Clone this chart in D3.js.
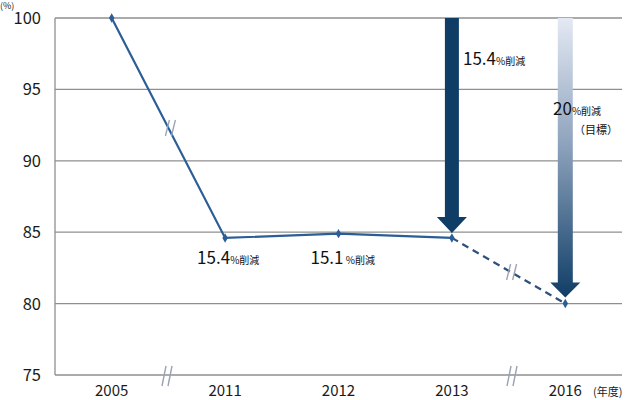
<!DOCTYPE html>
<html><head><meta charset="utf-8">
<script src="https://cdn.jsdelivr.net/npm/d3@7"></script>
<style>body{margin:0;background:#fff}svg{display:block}text{font-family:"Noto Sans CJK JP","Noto Sans",sans-serif}</style>
</head><body><svg id="c" width="640" height="400"></svg>
<script>
const years = ["2005","2011","2012","2013","2016"];
const values = [100, 84.6, 84.9, 84.6, 80];
const yTicks = [75, 80, 85, 90, 95, 100];
const reductionLabels = [{year:"2011", num:"15.4", unit:"%削減"},{year:"2012", num:"15.1", unit:" %削減"}];

const svg = d3.select("#c");
const x = d3.scalePoint().domain(years).range([55, 622]).padding(0.5);
const y = d3.scaleLinear().domain([75, 100]).range([375, 18]);
const navy = "#0f3d66", lineCol = "#2b5d97";

// grid
svg.selectAll(".g").data(yTicks).enter().append("line")
  .attr("x1", 55).attr("x2", 622).attr("y1", d => y(d)).attr("y2", d => y(d))
  .attr("stroke", "#8f8f8f").attr("stroke-width", 1.3);
svg.append("line").attr("x1", 55).attr("x2", 55).attr("y1", y(100)).attr("y2", y(75)).attr("stroke", "#8f8f8f").attr("stroke-width", 1.3);

// y labels
svg.selectAll(".yl").data(yTicks).enter().append("text")
  .attr("x", 41).attr("y", d => y(d) + 6).attr("text-anchor", "end")
  .attr("font-size", 16.5).attr("fill", "#1a1a1a").text(d => d);
svg.append("text").attr("x", 0).attr("y", 9).attr("font-size", 9).attr("fill", "#222").text("(%)");

// x labels
svg.selectAll(".xl").data(years).enter().append("text")
  .attr("x", d => x(d)).attr("y", 396).attr("text-anchor", "middle")
  .attr("font-size", 15).attr("fill", "#1a1a1a").text(d => d);
svg.append("text").attr("x", 593).attr("y", 396).attr("font-size", 11).attr("fill", "#222").text("(年度)");

// arrows
const defs = svg.append("defs");
const grad = defs.append("linearGradient").attr("id", "gr").attr("x1", 0).attr("y1", 0).attr("x2", 0).attr("y2", 1);
grad.append("stop").attr("offset", "0%").attr("stop-color", "#e4e9f4");
grad.append("stop").attr("offset", "45%").attr("stop-color", "#8ea3bd");
grad.append("stop").attr("offset", "100%").attr("stop-color", "#0f3d66");

function arrow(cx, top, tip, shaftW, headW, headH, fill) {
  const hw = shaftW / 2, hh = headW / 2, hs = tip - headH;
  svg.append("path").attr("d", `M${cx-hw},${top}L${cx+hw},${top}L${cx+hw},${hs}L${cx+hh},${hs}L${cx},${tip}L${cx-hh},${hs}L${cx-hw},${hs}Z`)
    .attr("fill", fill);
}
arrow(x("2013"), y(100), y(84.6) - 5, 14, 30, 16, navy);
arrow(x("2016"), y(100), y(80) - 6, 15, 30, 15, "url(#gr)");

// line
const pts = years.map((d, i) => [x(d), y(values[i])]);
svg.append("path").attr("d", d3.line()(pts.slice(0, 4))).attr("fill", "none").attr("stroke", lineCol).attr("stroke-width", 2.2);
svg.append("path").attr("d", d3.line()(pts.slice(3))).attr("fill", "none").attr("stroke", "#2e5179").attr("stroke-width", 2.2).attr("stroke-dasharray", "7,5");
svg.selectAll(".pt").data(pts).enter().append("path")
  .attr("transform", d => `translate(${d[0]},${d[1]})`)
  .attr("d", d3.symbol(d3.symbolDiamond, 26)).attr("fill", lineCol);

// break marks
function brk(cx, cy, h) {
  [-3, 3].forEach(dx => svg.append("line").attr("x1", cx + dx + 2).attr("y1", cy - h).attr("x2", cx + dx - 2).attr("y2", cy + h)
    .attr("stroke", "#9aa3b5").attr("stroke-width", 1.4));
}
brk(167, 376, 10); brk(512, 376, 10);
brk((x("2005")+x("2011"))/2 + 2, 128, 8);
brk((x("2013")+x("2016"))/2 + 3, 272, 8);

// labels
reductionLabels.forEach(l => {
  const t = svg.append("text").attr("x", x(l.year) - 28).attr("y", 264).attr("fill", "#111");
  t.append("tspan").attr("font-size", 17).text(l.num);
  t.append("tspan").attr("font-size", 10).text(l.unit);
});
const t1 = svg.append("text").attr("x", 463).attr("y", 65).attr("fill", "#111");
t1.append("tspan").attr("font-size", 17).text("15.4");
t1.append("tspan").attr("font-size", 10).text("%削減");
const t2 = svg.append("text").attr("x", 553).attr("y", 115).attr("fill", "#111");
t2.append("tspan").attr("font-size", 17).text("20");
t2.append("tspan").attr("font-size", 10).text("%削減");
svg.append("text").attr("x", 574).attr("y", 134).attr("font-size", 11).attr("fill", "#111").text("（目標）");
</script></body></html>
